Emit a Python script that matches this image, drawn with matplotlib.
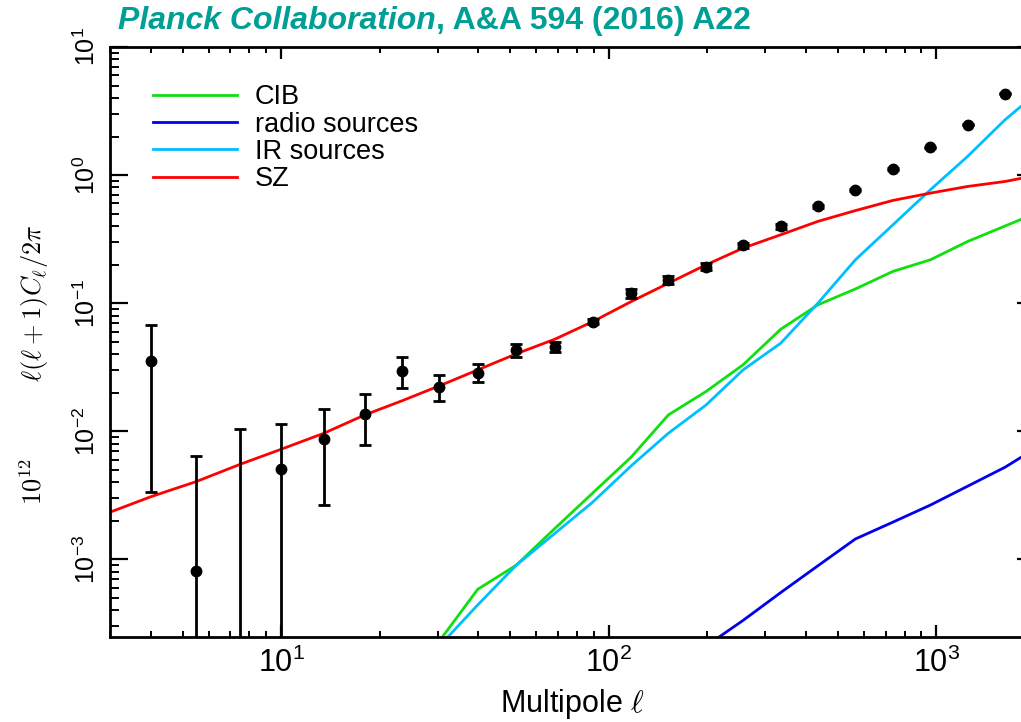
import numpy as np
import matplotlib.pyplot as plt
from matplotlib.ticker import LogLocator, NullFormatter

plt.rcParams['font.family'] = ['Liberation Sans', 'DejaVu Sans']
plt.rcParams['axes.unicode_minus'] = False

# binned spectrum (multipole bin centres, value, lower / upper end of error bar)
ell_bins = [4.0, 5.5, 7.5, 10.0, 13.5, 18.0, 23.4, 30.4, 39.8, 52.2, 68.6, 89.4,
            117, 152, 198, 257, 335, 435, 566, 737, 959, 1246, 1620]
dl_val = [0.0354, 8.15e-4, np.nan, 5.05e-3, 8.75e-3, 0.01365, 0.0296, 0.0223,
          0.0284, 0.0432, 0.0458, 0.0718, 0.1197, 0.152, 0.193, 0.282, 0.397,
          0.569, 0.768, 1.114, 1.643, 2.47, 4.32]
dl_lo = [0.00337, 1e-5, 1e-5, 1e-5, 2.65e-3, 7.86e-3, 0.0217, 0.0172, 0.0240,
         0.0379, 0.0414, 0.0681, 0.110, 0.141, 0.182, 0.270, 0.382, 0.552,
         0.752, 1.095, 1.62, 2.44, 4.27]
dl_hi = [0.0678, 0.00645, 0.0104, 0.01135, 0.01502, 0.0195, 0.0379, 0.0275,
         0.0334, 0.0478, 0.0501, 0.0757, 0.130, 0.163, 0.204, 0.294, 0.412,
         0.586, 0.785, 1.133, 1.665, 2.50, 4.37]

# SZ model
ell_sz = [3.0, 4.0, 5.5, 7.5, 10.0, 13.5, 18.0, 23.4, 30.4, 39.8, 52.2, 68.6,
          89.4, 117, 152, 198, 257, 335, 435, 566, 737, 959, 1246, 1620, 2000]
sz = [2.33e-3, 3.08e-3, 4.04e-3, 5.52e-3, 7.23e-3, 9.64e-3, 0.0134, 0.0173,
      0.0226, 0.0301, 0.0402, 0.0524, 0.0718, 0.1028, 0.143, 0.199, 0.269,
      0.342, 0.435, 0.528, 0.634, 0.723, 0.815, 0.891, 0.99]

# foreground templates
ell_fg = [30.4, 39.8, 52.2, 68.6, 89.4, 117, 152, 198, 257, 335, 435, 566,
          737, 959, 1246, 1620, 2000]
cib = [2.3e-4, 5.83e-4, 9.0e-4, 1.75e-3, 3.3e-3, 6.27e-3, 0.0134, 0.0204,
       0.033, 0.0626, 0.097, 0.129, 0.177, 0.218, 0.303, 0.40, 0.50]
ir_src = [2.1e-4, 4.4e-4, 9.0e-4, 1.6e-3, 2.8e-3, 5.36e-3, 9.64e-3, 0.0160,
          0.0301, 0.0487, 0.100, 0.218, 0.409, 0.768, 1.40, 2.70, 4.25]
ell_radio = [198, 257, 335, 435, 566, 737, 959, 1246, 1620, 2000]
radio = [2.1e-4, 3.33e-4, 5.5e-4, 8.9e-4, 1.44e-3, 1.95e-3, 2.65e-3, 3.72e-3,
         5.23e-3, 7.3e-3]

teal = '#009f95'

fig = plt.figure(figsize=(10.21, 7.22), dpi=100)
ax = fig.add_axes([0.1077, 0.1177, 0.906, 0.8172])

ax.plot(ell_fg, cib, color='#10e010', lw=2, label='CIB')
ax.plot(ell_radio, radio, color='#0000ee', lw=2, label='radio sources')
ax.plot(ell_fg, ir_src, color='#00bfff', lw=2, label='IR sources')
ax.plot(ell_sz, sz, color='#ff0000', lw=2, label='SZ')

# data points with error bars
ax.vlines(ell_bins, dl_lo, dl_hi, color='k', lw=2)
ax.plot(ell_bins, dl_hi, ls='none', marker='_', ms=8, mew=2, color='k')
ax.plot(ell_bins, dl_lo, ls='none', marker='_', ms=8, mew=2, color='k')
ax.plot(ell_bins, dl_val, ls='none', marker='o', ms=7.5, color='k')

ax.set_xscale('log')
ax.set_yscale('log')
ax.set_xlim(3, 2000)
ax.set_ylim(2.47e-4, 10)
ax.yaxis.set_major_locator(LogLocator(base=10, numticks=10))
ax.yaxis.set_minor_locator(LogLocator(base=10, subs=np.arange(2, 10), numticks=20))
ax.xaxis.set_minor_formatter(NullFormatter())
ax.yaxis.set_minor_formatter(NullFormatter())

ax.tick_params(which='both', direction='in', top=True, right=True, color='k')
ax.tick_params(axis='x', which='major', length=8.6, width=1.6, labelsize=22, pad=8)
ax.tick_params(axis='x', which='minor', length=4.3, width=1.4)
ax.tick_params(axis='y', which='major', length=13, width=1.6, labelsize=18,
               pad=7, labelrotation=90)
ax.tick_params(axis='y', which='minor', length=6.5, width=1.4)
for lbl in ax.get_yticklabels():
    lbl.set_va('center')
for sp in ax.spines.values():
    sp.set_linewidth(2)

ax.set_xlabel(r'Multipole $\ell$', fontsize=22, math_fontfamily='cm')
ax.xaxis.set_label_coords(0.5, -0.085)
ax.set_ylabel(r'$10^{12}\qquad\quad\;\ell(\ell+1)C_\ell/2\pi$', fontsize=19,
              math_fontfamily='cm')
ax.yaxis.set_label_coords(-0.064, 0.462)

ax.legend(frameon=False, fontsize=19.5, loc='upper left',
          bbox_to_anchor=(0.0465, 0.937), borderaxespad=0, borderpad=0,
          handlelength=3.1, handletextpad=0.66, labelspacing=0.05)

# journal header
t1 = fig.text(118 / 1021, 1 - 29 / 722, 'Planck Collaboration', color=teal,
              fontsize=23, fontweight='bold', fontstyle='italic', va='baseline')
fig.canvas.draw()
bb = t1.get_window_extent()
fig.text(bb.x1 / fig.bbox.width, 1 - 29 / 722, ', A&A 594 (2016) A22',
         color=teal, fontsize=23, fontweight='bold', va='baseline')

fig.savefig('out.png', dpi=100)
